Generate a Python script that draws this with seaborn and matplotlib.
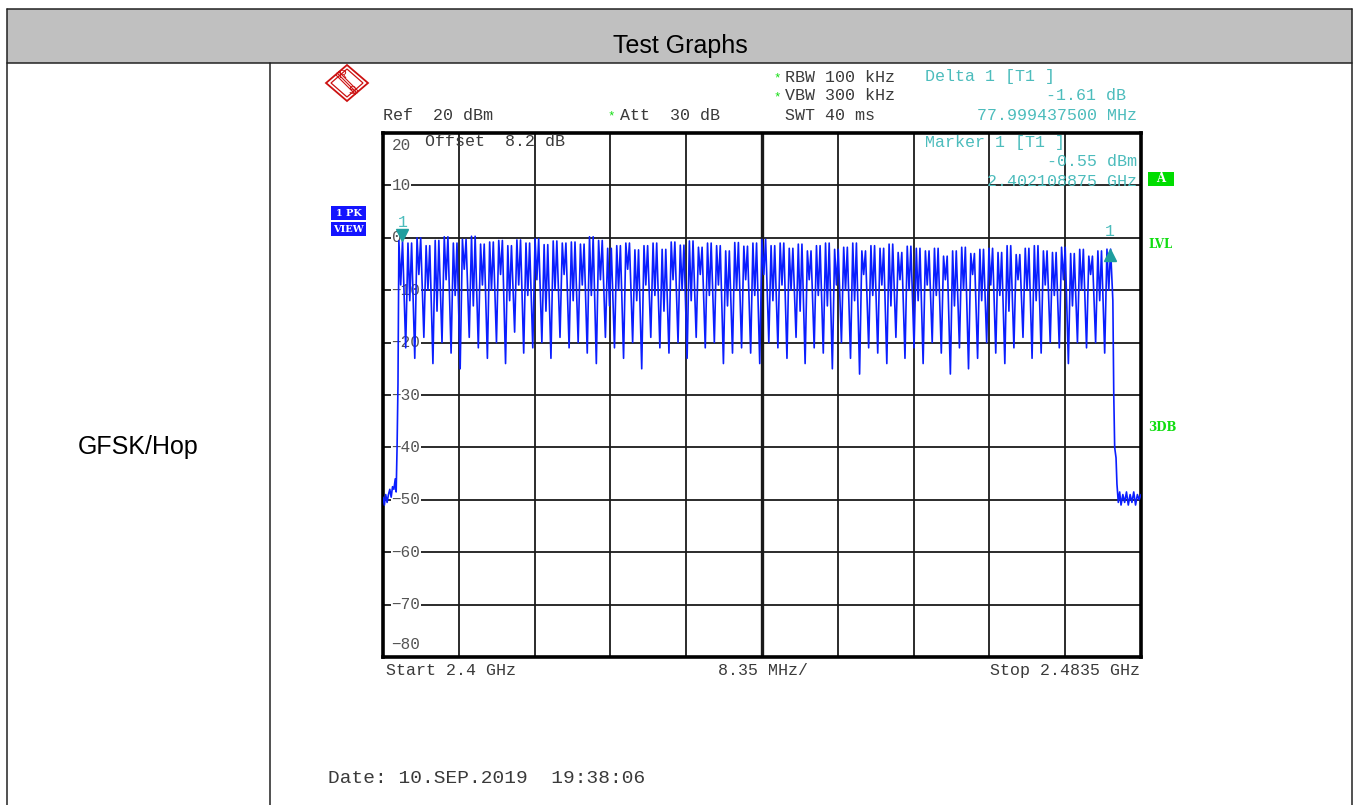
import numpy as np
import pandas as pd
import matplotlib
matplotlib.use("Agg")
import matplotlib.pyplot as plt
import matplotlib.transforms as mtransforms
from matplotlib.patches import Rectangle, Polygon
import seaborn as sns

sns.set_theme(style="white")
plt.rcParams["font.family"] = ["Liberation Sans", "DejaVu Sans"]

MONO = "Liberation Mono"
W, H = 1359, 805

# ------------------------------------------------------------------
# DATA
# ------------------------------------------------------------------
START_MHZ, STOP_MHZ = 2400.0, 2483.5
FIRST_CH_MHZ, LAST_CH_MHZ = 2402, 2480
Y_TOP, Y_BOTTOM = 20, -80

# peak level of every hop channel (dBm)
peak_db = [-0.55, -1.0, 0.0, -1.5, -0.5, 0.2, -1.0, -0.3, 0.3, -1.2,
           -0.8, -0.5, -1.5, -0.4, -1.0, -0.2, -1.3, -0.6, -1.0,
           -0.8, -1.2, 0.2, -0.5, -2.0, -1.5, -1.0, -2.3, -1.5, -1.0,
           -2.2, -0.8, -1.4, -0.6, -1.8, -1.0, -1.5, -2.5, -0.9, -1.6,
           -1.0, -0.3, -1.5, -1.0, -2.0, -1.2, -2.5, -1.5, -1.0, -2.2,
           -1.8, -1.0, -2.5, -1.5, -2.0, -1.2, -2.8, -1.6, -2.0, -2.5,
           -2.0, -3.5, -2.5, -1.8, -3.0, -2.2, -2.0, -2.8, -1.5, -3.2,
           -2.0, -1.5, -2.5, -2.8, -1.8, -3.0, -2.2, -3.5, -2.5, -2.16]

# notch inside each hop (dBm)
shoulder_db = [-9, -12, -7, -10, -14, -8, -11, -6, -13, -9,
               -10, -7, -12, -9, -11, -8, -14, -10, -7,
               -12, -9, -11, -8, -13, -10, -6, -12, -9, -11,
               -14, -8, -10, -12, -7, -11, -9, -13, -10, -8,
               -11, -7, -12, -9, -10, -14, -8, -11, -13, -9,
               -10, -12, -7, -11, -9, -13, -8, -10, -12, -9,
               -11, -8, -13, -10, -7, -12, -9, -11, -14, -8,
               -10, -12, -9, -11, -8, -13, -10, -7, -12, -10]

# valley between neighbouring hops (dBm)
dip_db = [-21, -23, -19, -24, -20, -22, -25, -19, -21, -23,
          -20, -24, -18, -22, -21, -20, -23, -19,
          -21, -20, -22, -24, -19, -21, -23, -20, -25, -19,
          -21, -22, -20, -23, -19, -21, -20, -24, -22, -21,
          -22, -24, -20, -21, -23, -19, -24, -21, -22, -25,
          -20, -23, -26, -21, -22, -24, -19, -23, -21, -24,
          -20, -22, -26, -21, -25, -23, -20, -22, -24, -21,
          -19, -23, -22, -20, -21, -24, -20, -21, -20, -22]

# noise floor and band edges
edge_left_mhz = [2400.0, 2400.15, 2400.3, 2400.45, 2400.6, 2400.75, 2400.9,
                 2401.05, 2401.2, 2401.35, 2401.45, 2401.55, 2401.65]
edge_left_db = [-49.5, -51, -49, -50.5, -49, -48, -49.5, -47.5, -48, -46,
                -48.5, -40, -28]
edge_right_mhz = [2480.4, 2480.5, 2480.6, 2480.75, 2480.85, 2481.0, 2481.15,
                  2481.3, 2481.5, 2481.7, 2481.9, 2482.1, 2482.3, 2482.5,
                  2482.7, 2482.9, 2483.1, 2483.3, 2483.5]
edge_right_db = [-12, -30, -40, -42, -47, -50.5, -48.5, -51, -49, -50.5,
                 -48.5, -51, -49, -50.5, -48.5, -51, -49, -50, -49]

# marker readout
marker1_mhz, marker1_db = 2402.108875, -0.55
delta1_mhz, delta1_db = 77.9994375, -1.61

y_levels = [20, 10, 0, -10, -20, -30, -40, -50, -60, -70, -80]
y_tick_labels = ["20", "10", "0", "-10", "-20", "-30", "-40", "-50",
                 "-60", "-70", "-80"]

# ------------------------------------------------------------------
# BUILD TRACE
# ------------------------------------------------------------------
channel_mhz = np.arange(FIRST_CH_MHZ, LAST_CH_MHZ + 1)
freq, level = list(edge_left_mhz), list(edge_left_db)
for i, f in enumerate(channel_mhz):
    freq += [f - 0.25, f - 0.05, f + 0.15]
    level += [peak_db[i], shoulder_db[i], peak_db[i]]
    if i < len(dip_db):
        freq.append(f + 0.5)
        level.append(dip_db[i])
freq += edge_right_mhz
level += edge_right_db
trace = pd.DataFrame({"freq_mhz": freq, "level_dbm": level})

# ------------------------------------------------------------------
# FIGURE
# ------------------------------------------------------------------
fig = plt.figure(figsize=(W / 100, H / 100), dpi=100)
fig.patch.set_facecolor("white")

x0, x1, y0, y1 = 383, 1141, 133, 657
ax = fig.add_axes([x0 / W, 1 - y1 / H, (x1 - x0) / W, (y1 - y0) / H], zorder=2)
ax.set_xlim(START_MHZ, STOP_MHZ)
ax.set_ylim(Y_BOTTOM, Y_TOP)
ax.set_xticks([])
ax.set_yticks([])
for sp in ax.spines.values():
    sp.set_linewidth(2.6)
    sp.set_color("black")

# graticule
div = (STOP_MHZ - START_MHZ) / 10
for k in range(1, 10):
    ax.axvline(START_MHZ + k * div, color="#1a1a1a",
               lw=2.4 if k == 5 else 1.3, zorder=1)
for lv in y_levels[1:-1]:
    ax.axhline(lv, color="#1a1a1a", lw=1.3, zorder=1)

# level labels inside the graticule
lab_x = START_MHZ + 0.95
for lv, lab in zip(y_levels, y_tick_labels):
    yy, va, box = lv, "center", dict(fc="white", ec="none", pad=0.4)
    if lv == Y_TOP:
        yy, va, box = lv - 0.9, "top", None
    elif lv == Y_BOTTOM:
        yy, va, box = lv + 0.9, "bottom", None
    ax.text(lab_x, yy, lab.replace("-", "\u2212"), family=MONO, fontsize=11.5,
            color="#555555", ha="left", va=va, zorder=2, bbox=box)

sns.lineplot(data=trace, x="freq_mhz", y="level_dbm", sort=False,
             estimator=None, color="#0a1eff", lw=1.2, ax=ax, zorder=3)
ax.set_xlabel("")
ax.set_ylabel("")

# markers
teal = "#1e9e9e"
up = mtransforms.offset_copy(ax.transData, fig=fig, x=0, y=4, units="points")
dn = mtransforms.offset_copy(ax.transData, fig=fig, x=0, y=-4, units="points")
ax.plot([marker1_mhz], [marker1_db], marker="v", ms=9, color=teal,
        transform=up, zorder=5, clip_on=False)
d_mhz, d_db = marker1_mhz + delta1_mhz, marker1_db + delta1_db
ax.plot([d_mhz], [d_db], marker="^", ms=9, color=teal,
        transform=dn, zorder=5, clip_on=False)

# ------------------------------------------------------------------
# OVERLAY (table + instrument annotations, pixel coordinates)
# ------------------------------------------------------------------
ov = fig.add_axes([0, 0, 1, 1], zorder=3)
ov.set_xlim(0, W)
ov.set_ylim(H, 0)
ov.axis("off")

ov.add_patch(Rectangle((7, 9), 1345, 54, fc="#c0c0c0", ec="none"))
lk = dict(color="#222222", lw=1.1)
ov.plot([7, 1352], [9, 9], **lk)
ov.plot([7, 1352], [63, 63], **lk)
ov.plot([7, 7], [9, 805], **lk)
ov.plot([1352, 1352], [9, 805], **lk)
ov.plot([270, 270], [63, 805], **lk)
ov.text(680, 46, "Test Graphs", fontsize=18, ha="center", va="center", color="black")
ov.text(138, 447, "GFSK/Hop", fontsize=18, ha="center", va="center", color="black")

# R&S logo
red = "#cc1111"
ov.add_patch(Polygon([(347, 65), (368, 83), (347, 101), (326, 83)],
                     closed=True, fc="none", ec=red, lw=1.3))
ov.add_patch(Polygon([(347, 69), (363, 83), (347, 97), (331, 83)],
                     closed=True, fc="none", ec=red, lw=0.9))
for off in (-1.5, 0, 1.5):
    ov.plot([337 + off, 357 + off], [73 - off, 93 - off], color=red, lw=0.8)
ov.text(342, 75, "R", fontsize=8, color=red, ha="center", va="center")
ov.text(352, 91, "S", fontsize=8, color=red, ha="center", va="center")

dark = "#3a3a3a"
cyan = "#4cbcbc"
green = "#11dd11"
tk = dict(family=MONO, fontsize=12, va="center")
star = dict(family=MONO, fontsize=9, va="center", ha="left", color=green)

ov.text(383, 116, "Ref  20 dBm", color=dark, ha="left", **tk)
ov.text(607, 116, "*", **star)
ov.text(620, 116, "Att  30 dB", color=dark, ha="left", **tk)
ov.text(773, 78, "*", **star)
ov.text(785, 77, "RBW 100 kHz", color=dark, ha="left", **tk)
ov.text(773, 97, "*", **star)
ov.text(785, 96, "VBW 300 kHz", color=dark, ha="left", **tk)
ov.text(785, 116, "SWT 40 ms", color=dark, ha="left", **tk)
ov.text(925, 77, "Delta 1 [T1 ]", color=cyan, ha="left", **tk)
ov.text(1126, 96, "-1.61 dB", color=cyan, ha="right", **tk)
ov.text(1137, 116, "77.999437500 MHz", color=cyan, ha="right", **tk)
ov.text(425, 142, "Offset  8.2 dB", color=dark, ha="left", **tk)
ov.text(925, 143, "Marker 1 [T1 ]", color=cyan, ha="left", **tk)
ov.text(1137, 162, "-0.55 dBm", color=cyan, ha="right", **tk)
ov.text(1137, 181, "2.402108875 GHz", color=cyan, ha="right", **tk)
ov.text(403, 222, "1", color=cyan, ha="center", **tk)
ov.text(1110, 231, "1", color=cyan, ha="center", **tk)
ov.text(386, 670, "Start 2.4 GHz", color=dark, ha="left", **tk)
ov.text(718, 670, "8.35 MHz/", color=dark, ha="left", **tk)
ov.text(1140, 670, "Stop 2.4835 GHz", color=dark, ha="right", **tk)
ov.text(328, 778, "Date: 10.SEP.2019  19:38:06", color=dark, ha="left",
        family=MONO, fontsize=14, va="center")

# side annotations
ov.add_patch(Rectangle((1148, 172), 26, 14, fc="#00dd00", ec="none"))
ov.text(1161, 179, "A", color="white", ha="center", va="center",
        family="DejaVu Serif", fontsize=8.5, weight="bold")
ov.text(1148, 244, "LVL", color=green, ha="left", va="center",
        family="DejaVu Serif", fontsize=8.5, weight="bold")
ov.text(1148, 427, "3DB", color=green, ha="left", va="center",
        family="DejaVu Serif", fontsize=8.5, weight="bold")

blue = "#1414ff"
ov.add_patch(Rectangle((331, 206), 35, 14, fc=blue, ec="none"))
ov.add_patch(Rectangle((331, 222), 35, 14, fc=blue, ec="none"))
ov.text(348.5, 213, "1 PK", color="white", ha="center", va="center",
        family="DejaVu Serif", fontsize=7, weight="bold")
ov.text(348.5, 229, "VIEW", color="white", ha="center", va="center",
        family="DejaVu Serif", fontsize=7, weight="bold")

fig.savefig("out.png", dpi=100, facecolor="white")
plt.close(fig)
